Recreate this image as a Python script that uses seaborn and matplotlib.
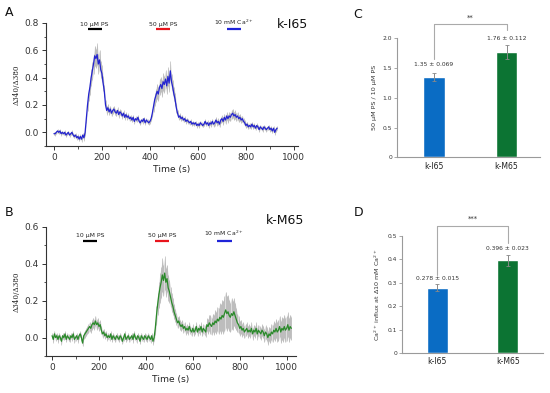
import numpy as np
import pandas as pd
import matplotlib
matplotlib.use("Agg")
import matplotlib.pyplot as plt
import seaborn as sns

# ---------------- data ----------------
# Panel A trace (k-I65), sampled every 5 s from 0 s
trace_a = [
    -0.01, -0.01, 0.00, 0.01, 0.00, 0.01, -0.01, 0.00, -0.01, 0.00,
    -0.02, -0.01, 0.00, -0.02, -0.01, 0.00, -0.02, -0.03, -0.02, -0.04,
    -0.03, -0.05, -0.03, -0.05, -0.02, -0.04, 0.00, 0.10, 0.20, 0.28,
    0.33, 0.40, 0.45, 0.50, 0.56, 0.54, 0.57, 0.50, 0.53, 0.46,
    0.43, 0.36, 0.30, 0.20, 0.16, 0.18, 0.15, 0.17, 0.14, 0.16,
    0.17, 0.15, 0.14, 0.16, 0.13, 0.15, 0.14, 0.12, 0.14, 0.11,
    0.13, 0.11, 0.12, 0.10, 0.11, 0.09, 0.11, 0.08, 0.10, 0.09,
    0.11, 0.08, 0.07, 0.09, 0.08, 0.10, 0.07, 0.09, 0.08, 0.07,
    0.08, 0.10, 0.14, 0.19, 0.24, 0.27, 0.30, 0.28, 0.33, 0.35,
    0.32, 0.37, 0.35, 0.39, 0.34, 0.41, 0.36, 0.45, 0.37, 0.33,
    0.28, 0.24, 0.18, 0.14, 0.11, 0.12, 0.10, 0.11, 0.09, 0.10,
    0.08, 0.09, 0.08, 0.07, 0.08, 0.06, 0.07, 0.06, 0.07, 0.05,
    0.06, 0.05, 0.07, 0.06, 0.05, 0.06, 0.08, 0.06, 0.07, 0.05,
    0.07, 0.06, 0.08, 0.06, 0.07, 0.09, 0.07, 0.08, 0.06, 0.09,
    0.10, 0.08, 0.11, 0.09, 0.12, 0.10, 0.12, 0.11, 0.13, 0.14,
    0.12, 0.13, 0.11, 0.12, 0.10, 0.11, 0.09, 0.10, 0.08, 0.07,
    0.05, 0.06, 0.04, 0.05, 0.04, 0.06, 0.04, 0.05, 0.03, 0.05,
    0.04, 0.02, 0.04, 0.03, 0.02, 0.04, 0.03, 0.02, 0.03, 0.04,
    0.02, 0.03, 0.01, 0.03, 0.00, 0.02, 0.03,
]
sem_a = [
    0.012, 0.014, 0.012, 0.015, 0.013, 0.012, 0.014, 0.013, 0.012, 0.015,
    0.014, 0.012, 0.013, 0.015, 0.012, 0.014, 0.013, 0.015, 0.014, 0.016,
    0.015, 0.017, 0.016, 0.018, 0.017, 0.020, 0.025, 0.035, 0.045, 0.050,
    0.055, 0.060, 0.065, 0.070, 0.075, 0.070, 0.080, 0.070, 0.075, 0.065,
    0.060, 0.055, 0.045, 0.035, 0.030, 0.028, 0.026, 0.025, 0.024, 0.025,
    0.024, 0.023, 0.024, 0.022, 0.023, 0.021, 0.022, 0.020, 0.021, 0.019,
    0.020, 0.019, 0.018, 0.019, 0.018, 0.017, 0.018, 0.017, 0.016, 0.017,
    0.016, 0.015, 0.016, 0.015, 0.016, 0.015, 0.014, 0.015, 0.016, 0.015,
    0.016, 0.020, 0.030, 0.040, 0.045, 0.050, 0.055, 0.050, 0.060, 0.055,
    0.060, 0.065, 0.060, 0.065, 0.060, 0.070, 0.065, 0.070, 0.060, 0.055,
    0.050, 0.045, 0.035, 0.025, 0.020, 0.020, 0.019, 0.018, 0.018, 0.017,
    0.016, 0.017, 0.016, 0.015, 0.016, 0.015, 0.014, 0.015, 0.014, 0.015,
    0.014, 0.015, 0.016, 0.015, 0.014, 0.016, 0.017, 0.016, 0.018, 0.017,
    0.018, 0.019, 0.020, 0.019, 0.021, 0.022, 0.021, 0.023, 0.022, 0.024,
    0.025, 0.026, 0.027, 0.028, 0.030, 0.029, 0.031, 0.030, 0.032, 0.033,
    0.031, 0.030, 0.029, 0.028, 0.027, 0.026, 0.024, 0.023, 0.022, 0.021,
    0.020, 0.019, 0.018, 0.019, 0.018, 0.017, 0.018, 0.017, 0.016, 0.017,
    0.016, 0.017, 0.016, 0.015, 0.016, 0.015, 0.016, 0.015, 0.016, 0.017,
    0.016, 0.017, 0.018, 0.017, 0.018, 0.017, 0.016,
]

# Panel B trace (k-M65), sampled every 5 s from 0 s
trace_b = [
    0.01, -0.01, 0.02, 0.00, 0.01, -0.01, 0.01, 0.00, -0.02, 0.01,
    0.00, 0.02, -0.01, 0.01, 0.00, -0.01, 0.01, 0.00, 0.02, -0.01,
    0.00, 0.01, -0.01, 0.01, 0.02, 0.00, -0.03, 0.01, 0.02, 0.03,
    0.04, 0.05, 0.06, 0.05, 0.07, 0.08, 0.07, 0.09, 0.07, 0.08,
    0.06, 0.07, 0.04, 0.02, 0.03, 0.01, 0.02, 0.00, 0.01, 0.00,
    0.02, -0.01, 0.01, 0.00, -0.01, 0.01, 0.00, -0.01, 0.01, 0.00,
    -0.02, 0.00, 0.02, -0.01, 0.00, 0.01, -0.01, 0.00, 0.01, -0.01,
    0.02, 0.00, -0.01, 0.01, 0.00, -0.02, 0.01, 0.00, -0.01, 0.01,
    0.00, -0.01, 0.01, 0.00, -0.01, 0.01, -0.02, 0.00, 0.05, 0.12,
    0.18, 0.23, 0.27, 0.30, 0.34, 0.31, 0.35, 0.30, 0.32, 0.27,
    0.25, 0.22, 0.19, 0.17, 0.14, 0.12, 0.10, 0.08, 0.09, 0.07,
    0.06, 0.07, 0.05, 0.06, 0.04, 0.05, 0.04, 0.06, 0.04, 0.03,
    0.05, 0.03, 0.04, 0.06, 0.03, 0.05, 0.04, 0.06, 0.03, 0.05,
    0.04, 0.03, 0.07, 0.06, 0.08, 0.07, 0.06, 0.08, 0.07, 0.09,
    0.08, 0.10, 0.09, 0.11, 0.10, 0.12, 0.11, 0.13, 0.15, 0.13,
    0.14, 0.12, 0.11, 0.13, 0.12, 0.14, 0.12, 0.10, 0.08, 0.07,
    0.05, 0.06, 0.04, 0.05, 0.03, 0.04, 0.05, 0.03, 0.04, 0.03,
    0.05, 0.02, 0.04, 0.03, 0.05, 0.02, 0.04, 0.03, 0.02, 0.04,
    0.03, 0.01, 0.03, 0.02, 0.00, 0.02, 0.01, 0.03, 0.02, 0.04,
    0.03, 0.05, 0.03, 0.04, 0.06, 0.03, 0.05, 0.04, 0.06, 0.04,
    0.05, 0.07, 0.04, 0.06, 0.05,
]
sem_b = [
    0.015, 0.017, 0.016, 0.018, 0.015, 0.017, 0.016, 0.015, 0.018, 0.016,
    0.015, 0.017, 0.016, 0.015, 0.017, 0.016, 0.015, 0.017, 0.016, 0.018,
    0.016, 0.015, 0.017, 0.016, 0.015, 0.017, 0.018, 0.018, 0.020, 0.021,
    0.022, 0.024, 0.025, 0.026, 0.027, 0.028, 0.027, 0.029, 0.028, 0.027,
    0.026, 0.024, 0.022, 0.020, 0.019, 0.018, 0.017, 0.016, 0.017, 0.016,
    0.015, 0.016, 0.017, 0.015, 0.016, 0.017, 0.015, 0.016, 0.017, 0.016,
    0.015, 0.016, 0.017, 0.016, 0.015, 0.017, 0.016, 0.015, 0.016, 0.017,
    0.016, 0.015, 0.017, 0.016, 0.015, 0.016, 0.017, 0.016, 0.015, 0.016,
    0.017, 0.016, 0.015, 0.016, 0.017, 0.016, 0.018, 0.020, 0.035, 0.050,
    0.060, 0.070, 0.080, 0.085, 0.090, 0.085, 0.090, 0.080, 0.075, 0.070,
    0.060, 0.055, 0.050, 0.045, 0.040, 0.035, 0.032, 0.030, 0.028, 0.027,
    0.026, 0.025, 0.024, 0.025, 0.024, 0.023, 0.024, 0.023, 0.022, 0.023,
    0.022, 0.023, 0.022, 0.023, 0.022, 0.023, 0.024, 0.023, 0.024, 0.025,
    0.026, 0.027, 0.035, 0.040, 0.045, 0.050, 0.045, 0.050, 0.055, 0.060,
    0.060, 0.065, 0.070, 0.075, 0.080, 0.085, 0.090, 0.095, 0.100, 0.095,
    0.090, 0.085, 0.080, 0.085, 0.080, 0.075, 0.070, 0.060, 0.050, 0.045,
    0.040, 0.038, 0.036, 0.035, 0.034, 0.033, 0.032, 0.033, 0.032, 0.031,
    0.032, 0.031, 0.030, 0.031, 0.032, 0.031, 0.030, 0.031, 0.032, 0.033,
    0.034, 0.035, 0.036, 0.037, 0.038, 0.040, 0.042, 0.044, 0.046, 0.048,
    0.050, 0.052, 0.054, 0.056, 0.058, 0.060, 0.062, 0.064, 0.065, 0.066,
    0.066, 0.067, 0.066, 0.065, 0.064,
]

# stimulation bars: (label, start, end)
stim_a = [("10 μM PS", 140, 200), ("50 μM PS", 425, 485), ("10 mM Ca$^{2+}$", 720, 780)]
stim_b = [("10 μM PS", 132, 191), ("50 μM PS", 438, 498), ("10 mM Ca$^{2+}$", 702, 766)]
stim_colors = ["#000000", "#e8141c", "#1f24d8"]

# bar panels
groups = ["k-I65", "k-M65"]
ratio_mean = [1.35, 1.76]
ratio_sem = [0.069, 0.112]
influx_mean = [0.278, 0.396]
influx_sem = [0.015, 0.023]
bar_colors = ["#0a6cc4", "#0c7433"]

# ---------------- figure ----------------
sns.set_style("ticks")
plt.rcParams["font.family"] = ["DejaVu Sans"]
W, H = 550, 393
fig = plt.figure(figsize=(W / 100, H / 100), dpi=100)
fig.patch.set_facecolor("white")


def px_axes(left, top, right, bottom):
    return fig.add_axes([left / W, 1 - bottom / H, (right - left) / W, (bottom - top) / H])


def trace_panel(ax, y, sem, color, stim, xlim, ylim, yticks, stim_y, text_y, name, name_xy):
    t = np.arange(len(y)) * 5
    y = np.array(y)
    sem = np.array(sem)
    ax.fill_between(t, y - sem, y + sem, color="#b4b4b4", alpha=0.45, linewidth=0)
    ax.errorbar(t, y, yerr=sem, fmt="none", ecolor="#8c8c8c", elinewidth=0.5, alpha=0.55)
    df = pd.DataFrame({"Time (s)": t, "ratio": y})
    sns.lineplot(data=df, x="Time (s)", y="ratio", ax=ax, color=color, linewidth=0.9)
    ax.set_xlim(*xlim)
    ax.set_ylim(*ylim)
    ax.set_xticks([0, 200, 400, 600, 800, 1000])
    ax.set_yticks(yticks)
    ax.set_yticklabels([f"{v:.1f}" for v in yticks])
    ax.set_xticks([100, 300, 500, 700, 900], minor=True)
    ax.set_yticks([v + 0.1 for v in yticks[:-1]] + [-0.1], minor=True)
    for s in ["top", "right"]:
        ax.spines[s].set_visible(False)
    for s in ["left", "bottom"]:
        ax.spines[s].set_color("#333333")
        ax.spines[s].set_linewidth(0.8)
    ax.tick_params(axis="both", which="major", labelsize=6.5, length=3, width=0.7,
                   colors="#333333", pad=2)
    ax.tick_params(axis="both", which="minor", length=1.8, width=0.6, colors="#333333")
    ax.set_xlabel("Time (s)", fontsize=6.6, labelpad=2, color="#222222")
    ax.set_ylabel("Δ340/Δ380", fontsize=5.2, family="serif", labelpad=3, color="#222222")
    for (lab, a, b), c in zip(stim, stim_colors):
        ax.plot([a, b], [stim_y, stim_y], color=c, linewidth=1.6, solid_capstyle="butt",
                clip_on=False)
        ax.text((a + b) / 2, text_y, lab, ha="center", va="bottom", fontsize=4.4,
                color="#222222")
    fig.text(name_xy[0] / W, 1 - name_xy[1] / H, name, fontsize=9, ha="center",
             va="center", color="#111111")


ax_a = px_axes(46, 23, 298, 146)
trace_panel(ax_a, trace_a, sem_a, "#2424d0", stim_a, (-33, 1017), (-0.1, 0.8),
            [0.0, 0.2, 0.4, 0.6, 0.8], 0.757, 0.772, "k-I65", (292, 24))

ax_b = px_axes(46, 227, 296, 356)
trace_panel(ax_b, trace_b, sem_b, "#2a8a2a", stim_b, (-26, 1040), (-0.1, 0.6),
            [0.0, 0.2, 0.4, 0.6], 0.526, 0.54, "k-M65", (285, 221))


def bar_panel(ax, means, sems, ylim, yticks, fmt, ylabel, labels_y, bracket, star, star_y):
    df = pd.DataFrame({"group": groups, "value": means})
    sns.barplot(data=df, x="group", y="value", hue="group", palette=bar_colors,
                width=0.3, errorbar=None, legend=False, ax=ax, saturation=1)
    ax.errorbar([0, 1], means, yerr=sems, fmt="none", ecolor="#888888", elinewidth=0.7,
                capsize=1.5, capthick=0.6)
    ax.set_ylim(*ylim)
    ax.set_yticks(yticks)
    ax.set_yticklabels([fmt(v) for v in yticks])
    for s in ["top", "right"]:
        ax.spines[s].set_visible(False)
    for s in ["left", "bottom"]:
        ax.spines[s].set_color("#9a9a9a")
        ax.spines[s].set_linewidth(0.8)
    ax.tick_params(axis="y", labelsize=4.3, length=2, width=0.6, colors="#9a9a9a",
                   labelcolor="#333333", pad=1.5)
    ax.tick_params(axis="x", labelsize=5.6, length=0, labelcolor="#222222", pad=3)
    ax.set_xlabel("")
    ax.set_ylabel(ylabel, fontsize=4.6, color="#333333", labelpad=4)
    for i, (m, s) in enumerate(zip(means, sems)):
        ax.text(i, labels_y[i], f"{m} ± {s}", ha="center", va="center", fontsize=4.3,
                color="#333333")
    l0, top, r0 = bracket
    ax.plot([0, 0, 1, 1], [l0, top, top, r0], color="#aaaaaa", linewidth=0.8,
            clip_on=False)
    ax.text(0.5, star_y, star, ha="center", va="center", fontsize=5, color="#333333")


ax_c = px_axes(397, 37.7, 540, 157.5)
bar_panel(ax_c, ratio_mean, ratio_sem, (0, 2.0), [0, 0.5, 1.0, 1.5, 2.0],
          lambda v: "0" if v == 0 else f"{v:.1f}", "50 μM PS / 10 μM PS",
          [1.545, 1.98], (1.645, 2.228, 2.13), "**", 2.33)
ax_c.set_xlim(-0.51, 1.46)

ax_d = px_axes(402, 235.7, 543, 353.3)
bar_panel(ax_d, influx_mean, influx_sem, (0, 0.5), [0, 0.1, 0.2, 0.3, 0.4, 0.5],
          lambda v: "0" if v == 0 else f"{v:.1f}", "Ca$^{2+}$ influx at Δ10 mM Ca$^{2+}$",
          [0.32, 0.446], (0.333, 0.541, 0.469), "***", 0.572)
ax_d.set_xlim(-0.5, 1.5)

# panel letters
for lab, x, y in [("A", 9, 12), ("B", 9, 212), ("C", 358, 15), ("D", 359, 212)]:
    fig.text(x / W, 1 - y / H, lab, fontsize=9, ha="center", va="center", color="#111111")

fig.savefig("out.png", dpi=100, facecolor="white")
